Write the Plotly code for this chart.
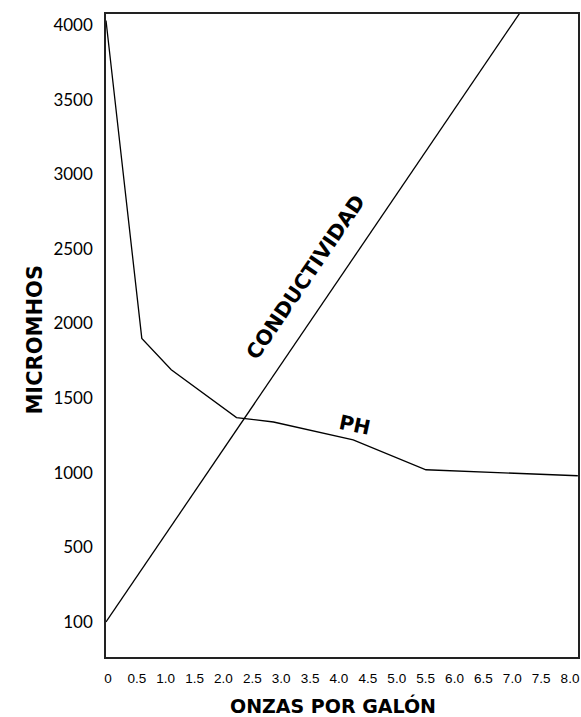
import plotly.graph_objects as go

# Data (y in axis units, bottom tick labelled "100")
ph_x = [0, 0.62, 1.13, 2.26, 2.9, 4.28, 5.54, 8.17]
ph_y = [4030, 1900, 1690, 1370, 1340, 1220, 1020, 980]
cond_x = [0, 7.2]
cond_y = [0, 4100]

x_ticks = [0, 0.5, 1.0, 1.5, 2.0, 2.5, 3.0, 3.5, 4.0, 4.5, 5.0, 5.5, 6.0, 6.5, 7.0, 7.5, 8.0]
x_ticktext = ["0", "0.5", "1.0", "1.5", "2.0", "2.5", "3.0", "3.5", "4.0", "4.5",
              "5.0", "5.5", "6.0", "6.5", "7.0", "7.5", "8.0"]
y_ticks = [0, 500, 1000, 1500, 2000, 2500, 3000, 3500, 4000]
y_ticktext = ["100", "500", "1000", "1500", "2000", "2500", "3000", "3500", "4000"]

fig = go.Figure()
fig.add_trace(go.Scatter(x=cond_x, y=cond_y, mode="lines",
                         line=dict(color="black", width=1.3), hoverinfo="skip"))
fig.add_trace(go.Scatter(x=ph_x, y=ph_y, mode="lines",
                         line=dict(color="black", width=1.3), hoverinfo="skip"))

title_font = "DejaVu Sans"

fig.update_layout(
    width=581, height=717,
    margin=dict(l=106, r=3, t=14, b=60, autoexpand=False),
    paper_bgcolor="white", plot_bgcolor="white",
    showlegend=False,
    xaxis=dict(range=[0, 8.173], tickvals=x_ticks, ticktext=x_ticktext,
               showgrid=False, zeroline=False, showline=True, mirror=True,
               linecolor="#222", linewidth=1.5, ticks="", ticklabelstandoff=8,
               ticklabelshift=2,
               tickfont=dict(family="Liberation Sans, Arial", size=13.5, color="black")),
    yaxis=dict(range=[-234.5, 4073.7], tickvals=y_ticks, ticktext=y_ticktext,
               showgrid=False, zeroline=False, showline=True, mirror=True,
               linecolor="#222", linewidth=1.5, ticks="", ticklabelstandoff=8,
               tickfont=dict(family="Lato, Noto Sans", size=17, color="black")),
    annotations=[
        dict(text="<b>MICROMHOS</b>", xref="paper", yref="paper", x=-0.181, y=0.493,
             textangle=-90, showarrow=False,
             font=dict(family=title_font, size=21, color="black")),
        dict(text="<b>ONZAS POR GALÓN</b>", xref="paper", yref="paper", x=0.481, y=-0.0755,
             yanchor="middle", showarrow=False,
             font=dict(family=title_font, size=19, color="black")),
        dict(text="<b>CONDUCTIVIDAD</b>", x=3.46, y=2311, textangle=-55.8,
             showarrow=False, font=dict(family=title_font, size=20.5, color="black")),
        dict(text="<b>PH</b>", x=4.31, y=1320, textangle=12,
             showarrow=False, font=dict(family=title_font, size=20, color="black")),
    ],
)

fig.write_html("out.html", config={"displayModeBar": False},
               post_script="document.body.style.margin='0';document.body.style.overflow='hidden';")
